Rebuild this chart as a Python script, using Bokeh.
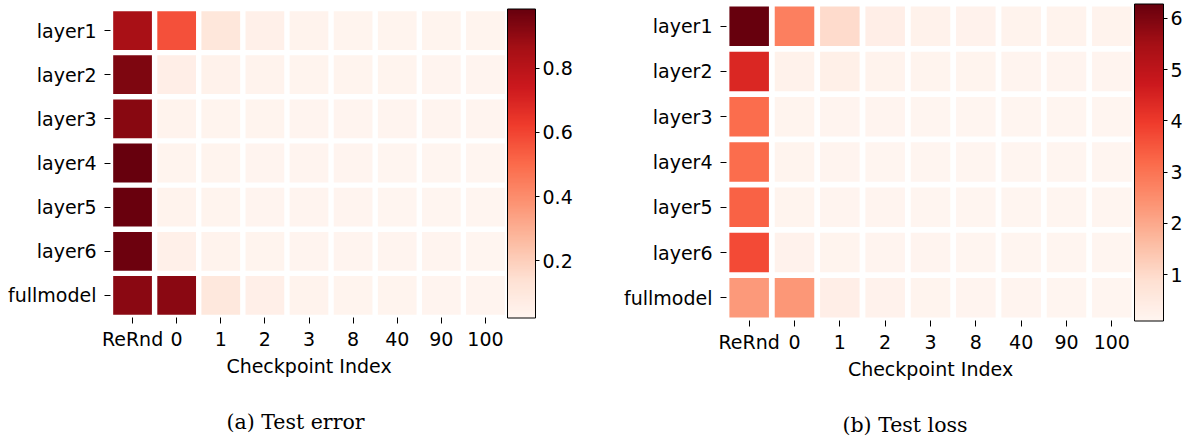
from bokeh.plotting import figure
from bokeh.models import (FactorRange, LinearColorMapper, ColorBar, FixedTicker,
                          Title, ColumnDataSource)
from bokeh.layouts import row
from bokeh.palettes import Reds256
from bokeh.embed import file_html
from bokeh.resources import INLINE

rows = ["layer1", "layer2", "layer3", "layer4", "layer5", "layer6", "fullmodel"]
checkpoints = ["ReRnd", "0", "1", "2", "3", "8", "40", "90", "100"]

# (a) Test error, one list per row, columns follow `checkpoints`
test_error = [
    [0.850, 0.570, 0.107, 0.050, 0.035, 0.032, 0.030, 0.030, 0.030],
    [0.937, 0.060, 0.040, 0.035, 0.032, 0.030, 0.030, 0.028, 0.028],
    [0.920, 0.035, 0.032, 0.030, 0.028, 0.027, 0.026, 0.026, 0.026],
    [0.985, 0.032, 0.030, 0.028, 0.026, 0.025, 0.024, 0.023, 0.021],
    [0.980, 0.033, 0.030, 0.028, 0.026, 0.025, 0.024, 0.023, 0.022],
    [0.970, 0.050, 0.035, 0.030, 0.028, 0.027, 0.026, 0.025, 0.024],
    [0.915, 0.915, 0.100, 0.055, 0.035, 0.032, 0.030, 0.028, 0.027],
]

# (b) Test loss
test_loss = [
    [6.28, 2.78, 0.97, 0.35, 0.22, 0.20, 0.19, 0.18, 0.18],
    [4.41, 0.22, 0.30, 0.18, 0.16, 0.15, 0.14, 0.14, 0.14],
    [3.12, 0.16, 0.14, 0.13, 0.12, 0.12, 0.11, 0.11, 0.11],
    [3.13, 0.15, 0.13, 0.12, 0.11, 0.11, 0.10, 0.10, 0.10],
    [3.31, 0.16, 0.14, 0.13, 0.12, 0.11, 0.11, 0.10, 0.096],
    [3.71, 0.20, 0.16, 0.14, 0.13, 0.12, 0.12, 0.11, 0.11],
    [2.28, 2.34, 0.35, 0.20, 0.16, 0.14, 0.13, 0.12, 0.12],
]

error_ticks = [0.2, 0.4, 0.6, 0.8]
loss_ticks = [1, 2, 3, 4, 5, 6]

palette = list(reversed(Reds256))
FONT = "DejaVu Sans"
TOTAL_H = 440


def make_panel(values, ticks, caption, frame_w, frame_h, mb_left, mb_right,
               mb_top, cell_w, cell_h, cb_w, cb_h, cb_margin, cap_offset,
               cap_standoff, styles=None):
    xs, ys, vs = [], [], []
    for r, vals in zip(rows, values):
        for c, v in zip(checkpoints, vals):
            xs.append(c)
            ys.append(r)
            vs.append(v)
    src = ColumnDataSource(dict(x=xs, y=ys, v=vs))
    mapper = LinearColorMapper(palette=palette, low=min(vs), high=max(vs))

    kw = {}
    if styles:
        kw["styles"] = styles
    p = figure(x_range=FactorRange(factors=checkpoints),
               y_range=FactorRange(factors=list(reversed(rows))),
               frame_width=frame_w, frame_height=frame_h,
               min_border_left=mb_left, min_border_right=mb_right,
               min_border_top=mb_top,
               min_border_bottom=TOTAL_H - frame_h - mb_top,
               output_backend="svg", toolbar_location=None, **kw)
    p.rect(x="x", y="y", width=cell_w, height=cell_h, source=src,
           fill_color={"field": "v", "transform": mapper}, line_color=None)

    for ax in (p.xaxis, p.yaxis):
        ax.axis_line_color = None
        ax.major_tick_in = 0
        ax.major_tick_out = 6
        ax.major_tick_line_color = "black"
        ax.major_label_text_font = FONT
        ax.major_label_text_font_size = "19px"
        ax.major_label_text_color = "black"
    p.xaxis.major_label_standoff = 4
    p.yaxis.major_label_standoff = 8
    p.xaxis.axis_label = "Checkpoint Index"
    p.xaxis.axis_label_text_font = FONT
    p.xaxis.axis_label_text_font_size = "19px"
    p.xaxis.axis_label_text_font_style = "normal"
    p.xaxis.axis_label_text_color = "black"
    p.xaxis.axis_label_standoff = 2
    p.grid.grid_line_color = None
    p.outline_line_color = None

    cb = ColorBar(color_mapper=mapper, ticker=FixedTicker(ticks=ticks),
                  width=cb_w, height=cb_h, location="center_left",
                  margin=cb_margin, padding=0,
                  bar_line_color="black", bar_line_width=1,
                  major_tick_in=0, major_tick_out=4,
                  major_tick_line_color="black",
                  minor_tick_line_color=None,
                  major_label_text_font=FONT,
                  major_label_text_font_size="19px",
                  major_label_text_color="black",
                  label_standoff=3,
                  background_fill_color=None, border_line_color=None)
    p.add_layout(cb, "right")

    p.add_layout(Title(text=caption, align="left", offset=cap_offset,
                       standoff=cap_standoff,
                       text_font="DejaVu Serif", text_font_size="20.5px",
                       text_font_style="normal", text_color="black"), "below")
    return p


p1 = make_panel(test_error, error_ticks, "(a) Test error",
                frame_w=397, frame_h=309, mb_left=110, mb_right=109, mb_top=8,
                cell_w=0.878, cell_h=0.878, cb_w=28, cb_h=309, cb_margin=6,
                cap_offset=116, cap_standoff=56)
p2 = make_panel(test_loss, loss_ticks, "(b) Test loss",
                frame_w=408, frame_h=317, mb_left=110, mb_right=68, mb_top=3,
                cell_w=0.872, cell_h=0.872, cb_w=29, cb_h=317, cb_margin=9,
                cap_offset=116, cap_standoff=56,
                styles={"margin-top": "-5px"})

layout = row(p1, p2)
open("out.html", "w").write(file_html(layout, INLINE))
